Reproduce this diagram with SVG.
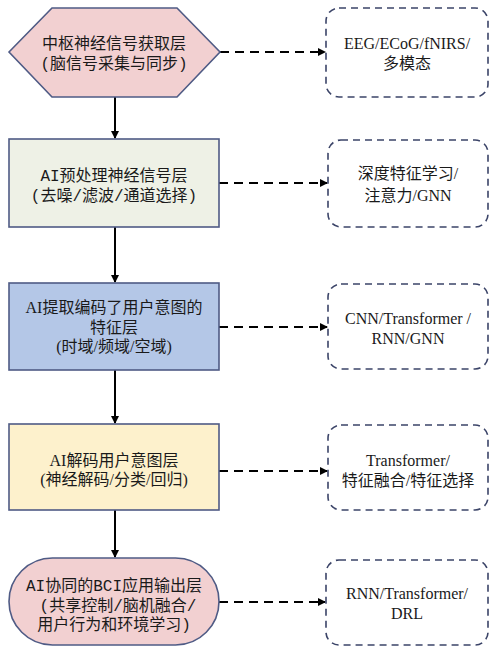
<svg xmlns="http://www.w3.org/2000/svg" width="490" height="647" viewBox="0 0 490 647">
<style>
.node{stroke:#4f5b85;stroke-width:1.6}
.side{fill:#fff;stroke:#3b4468;stroke-width:1.6;stroke-dasharray:7 5}
.mono{font-family:"Liberation Mono","Noto Sans CJK SC",monospace;font-size:16px;fill:#1a1a1a;text-anchor:middle}
.ser{font-family:"Liberation Serif","Noto Sans CJK SC",serif;font-size:16px;fill:#1a1a1a;text-anchor:middle}
.flow{stroke:#000;stroke-width:2;fill:none}
.dash{stroke:#000;stroke-width:2;fill:none;stroke-dasharray:9 6}
</style>
<defs>
<marker id="ah" markerWidth="8" markerHeight="8" refX="7" refY="4" orient="auto" markerUnits="userSpaceOnUse">
<path d="M0,0 L8,4 L0,8 Z" fill="#000"/>
</marker>
</defs>
<g id="connectors">
<line class="flow" x1="115" y1="97" x2="115" y2="138" marker-end="url(#ah)"/>
<line class="flow" x1="115" y1="227" x2="115" y2="282" marker-end="url(#ah)"/>
<line class="flow" x1="115" y1="370" x2="115" y2="423" marker-end="url(#ah)"/>
<line class="flow" x1="115" y1="510" x2="115" y2="557" marker-end="url(#ah)"/>
<line class="dash" x1="220" y1="52" x2="325" y2="52" marker-end="url(#ah)"/>
<line class="dash" x1="219" y1="183" x2="327" y2="183" marker-end="url(#ah)"/>
<line class="dash" x1="219" y1="327" x2="327" y2="327" marker-end="url(#ah)"/>
<line class="dash" x1="219" y1="471" x2="327" y2="471" marker-end="url(#ah)"/>
<line class="dash" x1="219" y1="602" x2="325" y2="602" marker-end="url(#ah)"/>
</g>
<g id="n1">
<polygon class="node" points="9,52 52,8 177,8 220,52 177,97 52,97" fill="#f2d0d1"/>
<text class="mono" x="114" y="49">中枢神经信号获取层</text>
<text class="mono" x="114" y="69">(脑信号采集与同步)</text>
</g>
<g id="n2">
<rect class="node" x="9" y="139" width="210" height="88" fill="#eef1e6"/>
<text class="mono" x="114" y="181">AI预处理神经信号层</text>
<text class="mono" x="114" y="201">(去噪/滤波/通道选择)</text>
</g>
<g id="n3">
<rect class="node" x="9" y="283" width="210" height="87" fill="#b4c7e7"/>
<text class="ser" x="114" y="313">AI提取编码了用户意图的</text>
<text class="ser" x="114" y="333">特征层</text>
<text class="ser" x="114" y="352">(时域/频域/空域)</text>
</g>
<g id="n4">
<rect class="node" x="9" y="424" width="210" height="86" fill="#fdf1cc"/>
<text class="ser" x="114" y="466">AI解码用户意图层</text>
<text class="ser" x="114" y="485">(神经解码/分类/回归)</text>
</g>
<g id="n5">
<rect class="node" x="9" y="558" width="210" height="87" rx="43.5" fill="#f2d0d1"/>
<text class="mono" x="114" y="591">AI协同的BCI应用输出层</text>
<text class="mono" x="118" y="611">(共享控制/脑机融合/</text>
<text class="mono" x="114" y="630">用户行为和环境学习)</text>
</g>
<g id="s1">
<rect class="side" x="326" y="8" width="162" height="89" rx="13"/>
<text class="ser" x="407" y="49">EEG/ECoG/fNIRS/</text>
<text class="ser" x="407" y="69">多模态</text>
</g>
<g id="s2">
<rect class="side" x="328" y="140" width="160" height="87" rx="13"/>
<text class="ser" x="408" y="179">深度特征学习/</text>
<text class="ser" x="408" y="201">注意力/GNN</text>
</g>
<g id="s3">
<rect class="side" x="328" y="284" width="160" height="85" rx="13"/>
<text class="ser" x="408" y="324">CNN/Transformer /</text>
<text class="ser" x="408" y="344">RNN/GNN</text>
</g>
<g id="s4">
<rect class="side" x="328" y="425" width="160" height="85" rx="13"/>
<text class="ser" x="408" y="466">Transformer/</text>
<text class="ser" x="408" y="486">特征融合/特征选择</text>
</g>
<g id="s5">
<rect class="side" x="326" y="560" width="162" height="85" rx="13"/>
<text class="ser" x="407" y="599">RNN/Transformer/</text>
<text class="ser" x="407" y="619">DRL</text>
</g>
</svg>
